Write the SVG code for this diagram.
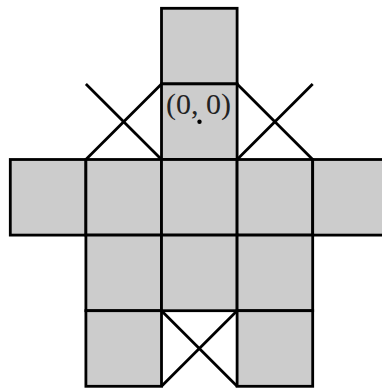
<svg xmlns="http://www.w3.org/2000/svg" width="382" height="388" viewBox="0 0 382 388">
<style>
.sq{fill:#cccccc;stroke:#000;stroke-width:2.8;stroke-linejoin:miter}
.x{stroke:#000;stroke-width:2.8;fill:none}
.lbl{font-family:"Liberation Serif","DejaVu Serif",serif;font-size:30px;fill:#222;text-anchor:middle}
</style>
<defs>
<rect id="cell" width="75.6" height="75.6"/>
</defs>
<g id="cell-0-2"><use href="#cell" class="sq" x="161.5" y="8.3"/></g>
<g id="cell-1-2"><use href="#cell" class="sq" x="161.5" y="83.9"/></g>
<g id="cell-2-0"><use href="#cell" class="sq" x="10.3" y="159.5"/></g>
<g id="cell-2-1"><use href="#cell" class="sq" x="85.9" y="159.5"/></g>
<g id="cell-2-2"><use href="#cell" class="sq" x="161.5" y="159.5"/></g>
<g id="cell-2-3"><use href="#cell" class="sq" x="237.1" y="159.5"/></g>
<g id="cell-2-4"><use href="#cell" class="sq" x="312.7" y="159.5"/></g>
<g id="cell-3-1"><use href="#cell" class="sq" x="85.9" y="235.1"/></g>
<g id="cell-3-2"><use href="#cell" class="sq" x="161.5" y="235.1"/></g>
<g id="cell-3-3"><use href="#cell" class="sq" x="237.1" y="235.1"/></g>
<g id="cell-4-1"><use href="#cell" class="sq" x="85.9" y="310.7"/></g>
<g id="cell-4-3"><use href="#cell" class="sq" x="237.1" y="310.7"/></g>
<g id="connectors" class="x">
<line x1="85.9" y1="83.9" x2="161.5" y2="159.5"/>
<line x1="85.9" y1="159.5" x2="161.5" y2="83.9"/>
<line x1="237.1" y1="83.9" x2="312.7" y2="159.5"/>
<line x1="237.1" y1="159.5" x2="312.7" y2="83.9"/>
<line x1="161.5" y1="310.7" x2="237.1" y2="386.3"/>
<line x1="161.5" y1="386.3" x2="237.1" y2="310.7"/>
</g>
<g id="origin">
<text class="lbl" x="198.6" y="113.5">(0, 0)</text>
<circle cx="199.5" cy="121.7" r="2.2" fill="#000"/>
</g>
</svg>
